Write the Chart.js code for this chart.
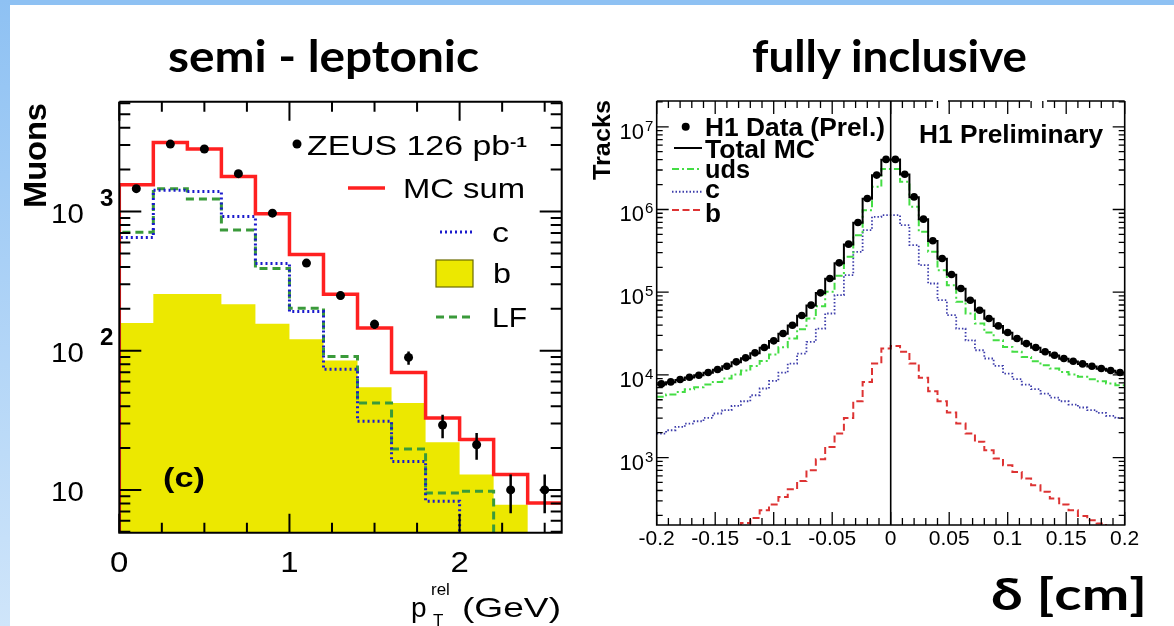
<!DOCTYPE html>
<html>
<head>
<meta charset="utf-8">
<script src="https://cdn.jsdelivr.net/npm/chart.js@4.4.1/dist/chart.umd.min.js"></script>
<style>
html,body{margin:0;padding:0;background:#fff;}
#page{position:relative;width:1174px;height:626px;overflow:hidden;background:#fff;}
#topbar{position:absolute;left:0;top:0;width:1174px;height:5px;background:#8ec1f3;}
#leftbar{position:absolute;left:0;top:0;width:10px;height:626px;background:linear-gradient(#8ec1f3,#cfe5fa);}
canvas{position:absolute;}
#c1{left:0;top:90px;}
#c2{left:580px;top:90px;}
#ov{position:absolute;left:0;top:0;pointer-events:none;}
</style>
</head>
<body>
<div id="page">
<div id="topbar"></div><div id="leftbar"></div>
<canvas id="c1" width="580" height="536"></canvas>
<canvas id="c2" width="594" height="536"></canvas>
<svg id="ov" width="1174" height="626" viewBox="0 0 1174 626" font-family="'Liberation Sans', Arial, Helvetica, sans-serif" fill="#000">
  <!-- titles -->
  <text x="168" y="72" font-family="Lato, 'DejaVu Sans', sans-serif" font-weight="bold" font-size="43" textLength="311" lengthAdjust="spacingAndGlyphs">semi - leptonic</text>
  <text x="752" y="72" font-family="Lato, 'DejaVu Sans', sans-serif" font-weight="bold" font-size="43" textLength="275" lengthAdjust="spacingAndGlyphs">fully inclusive</text>
  <!-- left panel -->
  <text transform="translate(46 155.5) rotate(-90)" text-anchor="middle" font-weight="bold" font-size="32" textLength="105" lengthAdjust="spacingAndGlyphs">Muons</text>
  <circle cx="297" cy="144" r="4.5"/>
  <text x="307" y="155" font-size="28" textLength="203" lengthAdjust="spacingAndGlyphs">ZEUS 126 pb</text>
  <text x="510" y="147" font-size="15" font-weight="bold" textLength="17" lengthAdjust="spacingAndGlyphs">-1</text>
  <line x1="348" y1="188" x2="385" y2="188" stroke="#ff2020" stroke-width="3.5"/>
  <text x="403" y="198" font-size="28" textLength="122" lengthAdjust="spacingAndGlyphs">MC sum</text>
  <line x1="440" y1="232" x2="473" y2="232" stroke="#1a1acc" stroke-width="3" stroke-dasharray="2 3"/>
  <text x="492" y="242" font-size="28" textLength="17" lengthAdjust="spacingAndGlyphs">c</text>
  <rect x="436" y="260" width="37" height="27" fill="#ece800" stroke="#6b6b00" stroke-width="1.2"/>
  <text x="493" y="283" font-size="28" textLength="18" lengthAdjust="spacingAndGlyphs">b</text>
  <line x1="436" y1="317" x2="473" y2="317" stroke="#3a9a3a" stroke-width="3" stroke-dasharray="8 5"/>
  <text x="492" y="327" font-size="28" textLength="35" lengthAdjust="spacingAndGlyphs">LF</text>
  <text x="163" y="487" font-size="28" font-weight="bold" textLength="42" lengthAdjust="spacingAndGlyphs">(c)</text>
  <text x="411" y="617" font-size="28">p</text>
  <text x="431" y="595" font-size="17">rel</text>
  <text x="433" y="626" font-size="17">T</text>
  <text x="462" y="617" font-size="28" textLength="99" lengthAdjust="spacingAndGlyphs">(GeV)</text>
  <!-- right panel -->
  <text transform="translate(610 140) rotate(-90)" text-anchor="middle" font-weight="bold" font-size="24" textLength="80" lengthAdjust="spacingAndGlyphs">Tracks</text>
  <circle cx="685.7" cy="126.7" r="4"/>
  <text x="705" y="136" font-weight="bold" font-size="26" textLength="180" lengthAdjust="spacingAndGlyphs">H1 Data (Prel.)</text>
  <line x1="674" y1="148" x2="702" y2="148" stroke="#000" stroke-width="2"/>
  <text x="705" y="158" font-weight="bold" font-size="26" textLength="110" lengthAdjust="spacingAndGlyphs">Total MC</text>
  <line x1="672" y1="169" x2="702" y2="169" stroke="#44dd44" stroke-width="2" stroke-dasharray="7 3 2 3"/>
  <text x="705" y="178" font-weight="bold" font-size="26" textLength="45" lengthAdjust="spacingAndGlyphs">uds</text>
  <line x1="672" y1="191.7" x2="702" y2="191.7" stroke="#3c3caa" stroke-width="2" stroke-dasharray="1.5 2"/>
  <text x="705" y="198" font-weight="bold" font-size="26" textLength="15" lengthAdjust="spacingAndGlyphs">c</text>
  <line x1="672" y1="210" x2="702" y2="210" stroke="#dd3333" stroke-width="2" stroke-dasharray="7 3.5"/>
  <text x="705" y="222" font-weight="bold" font-size="26" textLength="16" lengthAdjust="spacingAndGlyphs">b</text>
  <text x="919" y="143" font-weight="bold" font-size="26" textLength="184" lengthAdjust="spacingAndGlyphs">H1 Preliminary</text>
  <text x="991" y="610" font-family="Lato, 'DejaVu Sans', sans-serif" font-weight="bold" font-size="44" textLength="156" lengthAdjust="spacingAndGlyphs">δ [cm]</text>
</svg>
</div>
<script>
// ---------------- left panel (semi-leptonic) ----------------
const ptEdges = [0, 0.2, 0.4, 0.6, 0.8, 1.0, 1.2, 1.4, 1.6, 1.8, 2.0, 2.2, 2.4, 2.6];
const zeusData = [1460, 3050, 2815, 1870, 973, 426, 249, 155, 89.5, 29.3, 21.1, 10.0, 10.0];
const zeusErrUp = [38, 55, 53, 43, 31, 21, 16, 12, 9.4, 5.4, 4.5, 2.9, 2.9];
const zeusErrDown = [38, 55, 53, 43, 31, 21, 16, 12, 10.1, 5.8, 4.6, 3.2, 3.2];
const mcSum = [1556, 3126, 2810, 1783, 962, 492, 254, 145.6, 69.8, 32.9, 23.0, 12.9, 8.07];
const charmSemi = [650, 1420, 1393, 920, 424, 191, 73.5, 31.1, 16.0, 8.3, 0, 0, 0];
const beautySemi = [158, 256, 256, 216, 156, 121, 85, 54.6, 42.2, 22.0, 12.9, 7.83, 0];
const lightFlavour = [711, 1455, 1230, 738, 390, 202, 91, 42.2, 19.7, 9.5, 9.8, 0, 0];
const leftXTicks = [0, 1, 2];
const leftXLabels = ['0', '1', '2'];
const leftYTicks = [10, 100, 1000];
const leftYExp = ['', '2', '3'];

// ---------------- right panel (fully inclusive) ----------------
const deltaEdges = [-0.2, -0.192, -0.184, -0.176, -0.168, -0.16, -0.152, -0.144, -0.136, -0.128,
  -0.12, -0.112, -0.104, -0.096, -0.088, -0.08, -0.072, -0.064, -0.056, -0.048,
  -0.04, -0.032, -0.024, -0.016, -0.008, 0, 0.008, 0.016, 0.024, 0.032,
  0.04, 0.048, 0.056, 0.064, 0.072, 0.08, 0.088, 0.096, 0.104, 0.112,
  0.12, 0.128, 0.136, 0.144, 0.152, 0.16, 0.168, 0.176, 0.184, 0.192, 0.2];
const h1Data = [7780, 8220, 8790, 9370, 9910, 10670, 11610, 12740, 14370, 16060,
  18460, 21410, 25780, 31620, 39880, 52240, 69660, 98200, 146300, 226300,
  381000, 696600, 1358000, 2603000, 4030000, 4030000, 2670000, 1420000, 764000, 418000,
  255500, 163600, 110800, 80000, 60500, 48000, 39100, 32500, 27500, 23900,
  21400, 19000, 17300, 15800, 14640, 13580, 12740, 11940, 11280, 10670];
const totalMC = [7650, 8150, 8700, 9300, 9900, 10600, 11500, 12700, 14200, 15900,
  18300, 21300, 25600, 31400, 39600, 52000, 69000, 97500, 145000, 224000,
  378000, 690000, 1350000, 2590000, 4000000, 4010000, 2650000, 1410000, 760000, 415000,
  254000, 162000, 110000, 79500, 60000, 47800, 38900, 32300, 27400, 23800,
  21300, 18900, 17200, 15700, 14500, 13500, 12650, 11850, 11200, 10600];
const udsIncl = [5420, 5780, 6220, 6710, 7100, 7640, 8220, 9030, 10090, 11280,
  12840, 14760, 17600, 21600, 27540, 35700, 48000, 67700, 101000, 157800,
  267500, 489500, 982000, 1880000, 3080000, 3080000, 2160000, 1077000, 537000, 307600,
  184500, 121600, 76400, 55200, 41800, 32500, 26200, 21800, 19000, 16500,
  14640, 13090, 11940, 10870, 10090, 9460, 8870, 8380, 7850, 7500];
const charmIncl = [1950, 2140, 2350, 2580, 2750, 3020, 3410, 3740, 4220, 4800,
  5670, 6840, 8460, 10670, 13700, 18100, 25100, 36300, 55200, 92000,
  160700, 307600, 562000, 815000, 853000, 853000, 645700, 370700, 212300, 127400,
  80000, 52700, 36300, 26200, 19860, 15770, 12850, 10380, 8870, 7640,
  6710, 5940, 5320, 4800, 4380, 4030, 3740, 3470, 3190, 3020];
const beautyIncl = [60, 68, 76, 85, 95, 106, 118, 132, 148, 162,
  186, 231, 270, 334, 414, 522, 703, 955, 1346, 1950,
  3020, 4800, 8220, 13700, 20800, 22400, 19000, 13700, 9200, 6340,
  4800, 3500, 2580, 1950, 1550, 1228, 973, 807, 671, 557,
  463, 385, 319, 270, 230, 197, 175, 159, 145, 132];
const rightXTicks = [-0.2, -0.15, -0.1, -0.05, 0, 0.05, 0.1, 0.15, 0.2];
const rightXLabels = ['-0.2', '-0.15', '-0.1', '-0.05', '0', '0.05', '0.1', '0.15', '0.2'];
const rightYTicks = [1e3, 1e4, 1e5, 1e6, 1e7];
const rightYExp = ['3', '4', '5', '6', '7'];

// ---------------- helpers ----------------
// Histogram outline points (bin edges); empty bins are drawn at a floor below the log axis.
function histPoints(edges, vals, floor, fromFloor) {
  const f = v => (v > 0 ? v : floor);
  const pts = vals.map((v, i) => ({x: edges[i], y: f(v)}));
  pts.push({x: edges[edges.length - 1], y: f(vals[vals.length - 1])});
  if (fromFloor) pts.unshift({x: edges[0], y: floor});
  return pts;
}
function centers(edges) {
  return edges.slice(0, -1).map((e, i) => (e + edges[i + 1]) / 2);
}
function logMinors(min, max) {
  const out = [];
  for (let d = 1; d <= 1e7; d *= 10) {
    for (let m = 2; m <= 9; m++) { const v = m * d; if (v > min && v < max) out.push(v); }
  }
  return out;
}
function linMinors(from, to, step, majors) {
  const out = [];
  const n = Math.round((to - from) / step);
  for (let i = 0; i <= n; i++) {
    const v = +(from + i * step).toFixed(6);
    if (!majors.some(m => Math.abs(m - v) < 1e-9)) out.push(v);
  }
  return out;
}
function stretched(ctx, text, x, y, align, sx) {
  ctx.save(); ctx.translate(x, y); ctx.scale(sx, 1);
  ctx.textAlign = align; ctx.textBaseline = 'alphabetic';
  ctx.fillText(text, 0, 0); ctx.restore();
}

const rootAxes = {
  id: 'rootAxes',
  afterDatasetsDraw(chart, args, o) {
    const ctx = chart.ctx, a = chart.chartArea, xs = chart.scales.x, ys = chart.scales.y;
    ctx.save();
    ctx.strokeStyle = '#000'; ctx.fillStyle = '#000';
    if (o.zeroLine) {
      const px = xs.getPixelForValue(0);
      ctx.lineWidth = o.zeroLine; ctx.beginPath();
      ctx.moveTo(px, a.top); ctx.lineTo(px, a.bottom); ctx.stroke();
    }
    if (o.errCenters) {
      ctx.lineWidth = o.errWidth; ctx.beginPath();
      o.errCenters.forEach((c, i) => {
        const v = o.errVals[i];
        const px = xs.getPixelForValue(c);
        const y1 = Math.max(a.top, ys.getPixelForValue(v + o.errUp[i]));
        const y2 = Math.min(a.bottom, ys.getPixelForValue(v - o.errDown[i]));
        ctx.moveTo(px, y1); ctx.lineTo(px, y2);
      });
      ctx.stroke();
    }
    // ticks on all four sides
    ctx.lineWidth = o.tickWidth; ctx.beginPath();
    const xt = (v, len) => { const px = xs.getPixelForValue(v);
      ctx.moveTo(px, a.bottom); ctx.lineTo(px, a.bottom - len);
      ctx.moveTo(px, a.top); ctx.lineTo(px, a.top + len); };
    const yt = (v, len) => { const py = ys.getPixelForValue(v);
      ctx.moveTo(a.left, py); ctx.lineTo(a.left + len, py);
      ctx.moveTo(a.right, py); ctx.lineTo(a.right - len, py); };
    o.xMajor.forEach(v => xt(v, o.xMajorLen));
    o.xMinor.forEach(v => xt(v, o.xMinorLen));
    o.yMajor.forEach(v => yt(v, o.yMajorLen));
    o.yMinor.forEach(v => yt(v, o.yMinorLen));
    ctx.stroke();
    // frame
    ctx.lineWidth = o.frameWidth; ctx.beginPath();
    ctx.moveTo(a.left, a.top); ctx.lineTo(a.left, a.bottom);
    ctx.lineTo(a.right, a.bottom); ctx.lineTo(a.right, a.top);
    let x0 = a.left;
    (o.topGaps || []).forEach(g => { ctx.moveTo(x0, a.top); ctx.lineTo(g[0], a.top); x0 = g[1]; });
    ctx.moveTo(x0, a.top); ctx.lineTo(a.right, a.top);
    ctx.stroke();
    // x labels
    ctx.font = o.xFont;
    o.xMajor.forEach((v, i) => {
      stretched(ctx, o.xLabels[i], xs.getPixelForValue(v), o.xBaseline, 'center', o.xStretch);
    });
    // y labels 10^n
    o.yMajor.forEach((v, i) => {
      const py = ys.getPixelForValue(v);
      ctx.font = o.yFont;
      stretched(ctx, '10', a.left - o.yBaseRight, py + o.yBaseDy, 'right', o.yStretch);
      if (o.yExp[i]) {
        ctx.font = o.yExpFont;
        stretched(ctx, o.yExp[i], a.left - o.yExpLeft, py + o.yExpDy, 'left', o.yStretch);
      }
    });
    ctx.restore();
  }
};

Chart.defaults.animation = false;
Chart.defaults.font.family = "'Liberation Sans', Arial, sans-serif";

// ---------------- left chart ----------------
const leftMin = 4.93, leftMax = 6150, leftFloor = 0.5;
new Chart(document.getElementById('c1'), {
  type: 'line',
  data: {
    datasets: [
      {label: 'ZEUS 126 pb-1', data: centers(ptEdges).map((x, i) => ({x, y: zeusData[i]})),
       showLine: false, pointRadius: 4.5, pointBackgroundColor: '#000', pointBorderColor: '#000', pointBorderWidth: 0, order: 0},
      {label: 'MC sum', data: histPoints(ptEdges, mcSum, leftFloor, true), stepped: 'before', borderColor: '#ff2020', borderWidth: 3.5, pointRadius: 0, fill: false, order: 1},
      {label: 'c', data: histPoints(ptEdges, charmSemi, leftFloor, true), stepped: 'before', borderColor: '#1a1acc', borderWidth: 3, borderDash: [2, 3], pointRadius: 0, fill: false, order: 2},
      {label: 'LF', data: histPoints(ptEdges, lightFlavour, leftFloor, true), stepped: 'before', borderColor: '#3a9a3a', borderWidth: 3, borderDash: [8, 5], pointRadius: 0, fill: false, order: 3},
      {label: 'b', data: histPoints(ptEdges, beautySemi, leftFloor, false), stepped: 'before', borderWidth: 0, borderColor: 'rgba(0,0,0,0)', backgroundColor: '#ece800', pointRadius: 0, fill: 'start', order: 5}
    ]
  },
  options: {
    responsive: false,
    layout: {padding: {left: 119.3, right: 18.3, top: 11.7, bottom: 93.3}},
    scales: {
      x: {type: 'linear', min: 0, max: 2.6, display: false},
      y: {type: 'logarithmic', min: leftMin, max: leftMax, display: false}
    },
    plugins: {
      legend: {display: false}, tooltip: {enabled: false},
      rootAxes: {
        xMajor: leftXTicks, xLabels: leftXLabels,
        xMinor: linMinors(0, 2.5, 0.25, leftXTicks),
        xMajorLen: 19, xMinorLen: 10,
        yMajor: leftYTicks, yExp: leftYExp,
        yMinor: logMinors(leftMin, leftMax),
        yMajorLen: 22, yMinorLen: 11,
        tickWidth: 2, frameWidth: 2,
        xFont: "30px 'Liberation Sans'", xBaseline: 482, xStretch: 1.1,
        yFont: "28px 'Liberation Sans'", yExpFont: "bold 23px 'Liberation Sans'",
        yBaseRight: 35.5, yBaseDy: 11, yExpLeft: 19.3, yExpDy: -6, yStretch: 1.05,
        errCenters: centers(ptEdges), errVals: zeusData, errUp: zeusErrUp, errDown: zeusErrDown, errWidth: 2.5
      }
    }
  },
  plugins: [rootAxes]
});

// ---------------- right chart ----------------
const rightMin = 153, rightMax = 2.05e7, rightFloor = 15;
new Chart(document.getElementById('c2'), {
  type: 'line',
  data: {
    datasets: [
      {label: 'H1 Data (Prel.)', data: centers(deltaEdges).map((x, i) => ({x, y: h1Data[i]})),
       showLine: false, pointRadius: 3.8, pointBackgroundColor: '#000', pointBorderColor: '#000', pointBorderWidth: 0, order: 0},
      {label: 'Total MC', data: histPoints(deltaEdges, totalMC, rightFloor, false), stepped: 'before', borderColor: '#000', borderWidth: 2, pointRadius: 0, fill: false, order: 1},
      {label: 'uds', data: histPoints(deltaEdges, udsIncl, rightFloor, false), stepped: 'before', borderColor: '#44dd44', borderWidth: 2, borderDash: [7, 3, 2, 3], pointRadius: 0, fill: false, order: 2},
      {label: 'c', data: histPoints(deltaEdges, charmIncl, rightFloor, false), stepped: 'before', borderColor: '#3c3caa', borderWidth: 1.8, borderDash: [1.5, 2], pointRadius: 0, fill: false, order: 3},
      {label: 'b', data: histPoints(deltaEdges, beautyIncl, rightFloor, false), stepped: 'before', borderColor: '#dd3333', borderWidth: 2, borderDash: [7, 3.5], pointRadius: 0, fill: false, order: 4}
    ]
  },
  options: {
    responsive: false,
    layout: {padding: {left: 76.7, right: 49.3, top: 11, bottom: 101}},
    scales: {
      x: {type: 'linear', min: -0.2, max: 0.2, display: false},
      y: {type: 'logarithmic', min: rightMin, max: rightMax, display: false}
    },
    plugins: {
      legend: {display: false}, tooltip: {enabled: false},
      rootAxes: {
        zeroLine: 1.6,
        xMajor: rightXTicks, xLabels: rightXLabels,
        xMinor: linMinors(-0.2, 0.2, 0.01, rightXTicks),
        xMajorLen: 13, xMinorLen: 7,
        yMajor: rightYTicks, yExp: rightYExp,
        yMinor: logMinors(rightMin, rightMax),
        yMajorLen: 12, yMinorLen: 6,
        tickWidth: 1.3, frameWidth: 1.6,
        topGaps: [[353, 368], [450, 467]],
        xFont: "21px 'Liberation Sans'", xBaseline: 455, xStretch: 1.0,
        yFont: "22px 'Liberation Sans'", yExpFont: "15px 'Liberation Sans'",
        yBaseRight: 12.7, yBaseDy: 12, yExpLeft: 11.7, yExpDy: 4, yStretch: 1.0
      }
    }
  },
  plugins: [rootAxes]
});
</script>
</body>
</html>
